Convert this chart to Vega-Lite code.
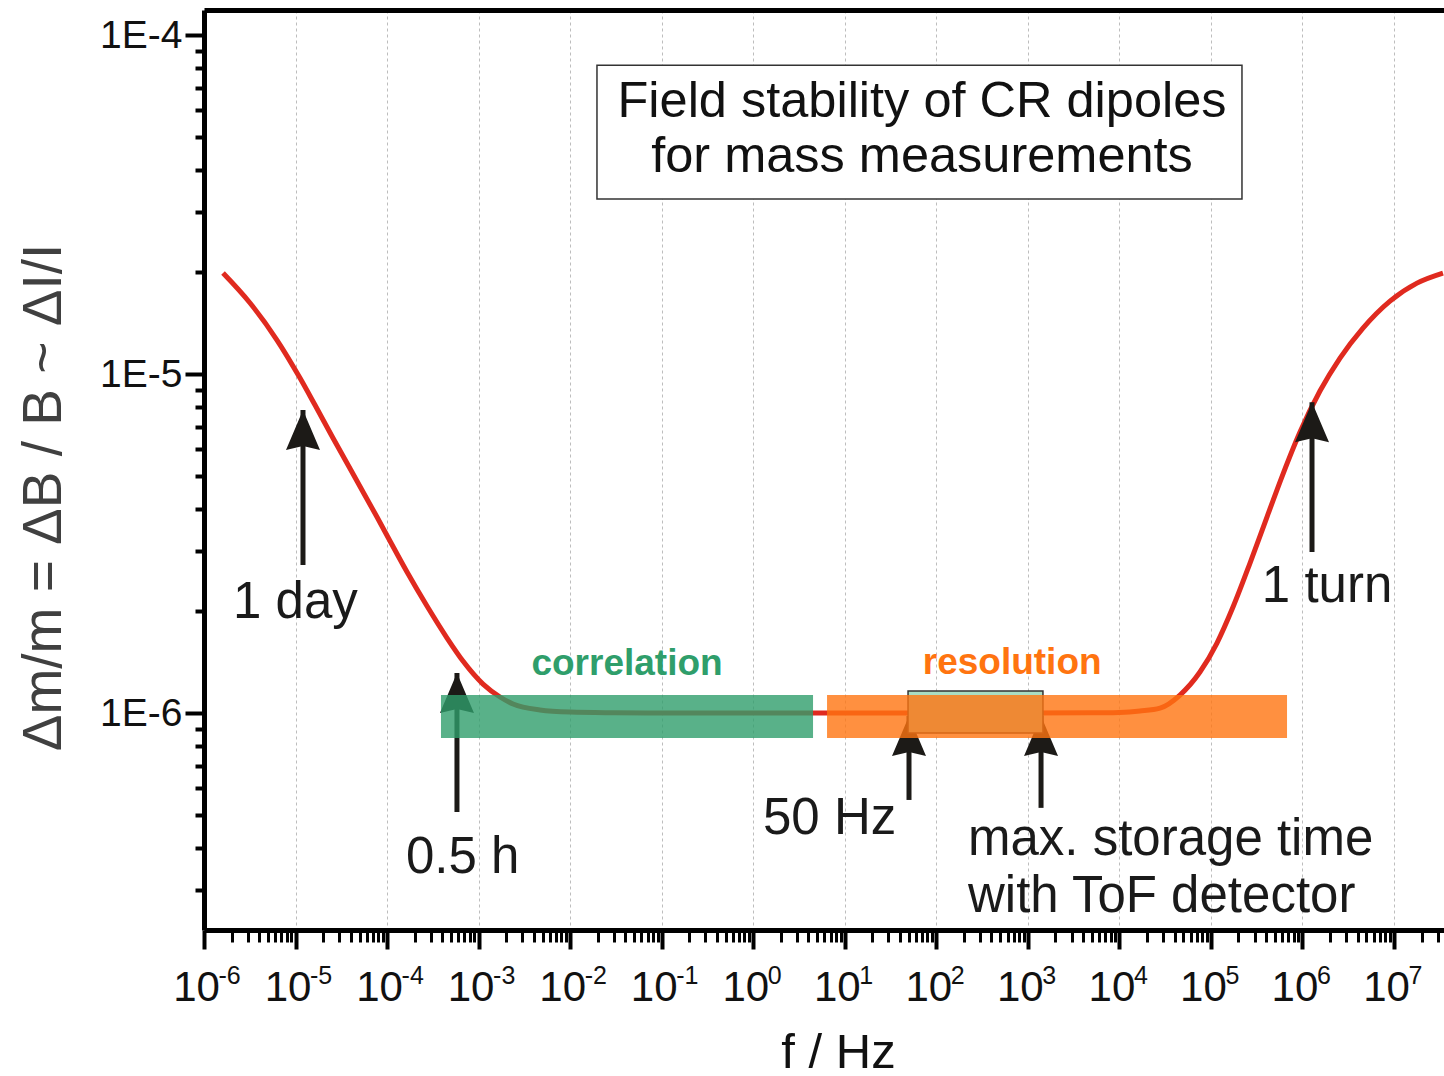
{
  "$schema": "https://vega.github.io/schema/vega-lite/v6.json",
  "width": 1240,
  "height": 920,
  "autosize": {"type": "none"},
  "padding": {"left": 204, "top": 10, "right": 0, "bottom": 146},
  "background": "white",
  "config": {"view": {"stroke": null}, "font": "Liberation Sans"},
  "datasets": {
    "curve": [
      {"f": 1.614e-6, "v": 1.986e-5},
      {"f": 3.184e-6, "v": 1.62e-5},
      {"f": 6.266e-6, "v": 1.26e-5},
      {"f": 1.119e-5, "v": 9.73e-6},
      {"f": 1.632e-5, "v": 8.1e-6},
      {"f": 2.564e-5, "v": 6.48e-6},
      {"f": 4.688e-5, "v": 4.835e-6},
      {"f": 7.762e-5, "v": 3.786e-6},
      {"f": 1.076e-4, "v": 3.217e-6},
      {"f": 1.652e-4, "v": 2.605e-6},
      {"f": 2.729e-4, "v": 2.068e-6},
      {"f": 4.519e-4, "v": 1.664e-6},
      {"f": 6.745e-4, "v": 1.423e-6},
      {"f": 1.117e-3, "v": 1.217e-6},
      {"f": 1.714e-3, "v": 1.115e-6},
      {"f": 2.377e-3, "v": 1.063e-6},
      {"f": 4.677e-3, "v": 1.021e-6},
      {"f": 0.01, "v": 1.007e-6},
      {"f": 0.03, "v": 1.002e-6},
      {"f": 0.1, "v": 1.0e-6},
      {"f": 1, "v": 1.0e-6},
      {"f": 10, "v": 1.0e-6},
      {"f": 100, "v": 1.0e-6},
      {"f": 1000, "v": 1.0e-6},
      {"f": 5000, "v": 1.001e-6},
      {"f": 10000, "v": 1.004e-6},
      {"f": 1.679e4, "v": 1.014e-6},
      {"f": 2.78e4, "v": 1.034e-6},
      {"f": 4.592e4, "v": 1.13e-6},
      {"f": 7.586e4, "v": 1.321e-6},
      {"f": 1.164e5, "v": 1.609e-6},
      {"f": 1.742e5, "v": 2.054e-6},
      {"f": 2.673e5, "v": 2.77e-6},
      {"f": 4.093e5, "v": 3.786e-6},
      {"f": 6.124e5, "v": 5.07e-6},
      {"f": 9.397e5, "v": 6.745e-6},
      {"f": 1.552e6, "v": 8.91e-6},
      {"f": 2.57e6, "v": 1.115e-5},
      {"f": 4.581e6, "v": 1.367e-5},
      {"f": 9.036e6, "v": 1.642e-5},
      {"f": 1.782e7, "v": 1.855e-5},
      {"f": 3.428e7, "v": 1.986e-5}
    ],
    "arrows": [
      {"label": "1 day", "f": 1.206e-5, "v": 7.83e-6, "v2": 2.734e-6},
      {"label": "0.5 h", "f": 5.8e-4, "v": 1.312e-6, "v2": 5.105e-7},
      {"label": "50 Hz", "f": 50.3, "v": 9.8e-7, "v2": 5.54e-7},
      {"label": "max. storage time", "f": 1393, "v": 9.8e-7, "v2": 5.25e-7},
      {"label": "1 turn", "f": 1.271e6, "v": 8.26e-6, "v2": 2.985e-6}
    ],
    "box": [
      {"f": 49.1, "f2": 1462, "v": 1.161e-6, "v2": 8.73e-7}
    ],
    "bands": [
      {"band": "correlation", "f": 3.88e-4, "f2": 4.5, "v": 1.13e-6, "v2": 8.44e-7},
      {"band": "resolution", "f": 6.4, "f2": 6.78e5, "v": 1.13e-6, "v2": 8.44e-7}
    ],
    "notes": [
      {"text": "1 day", "f": 2.074e-6, "v": 1.906e-6},
      {"text": "0.5 h", "f": 1.609e-4, "v": 3.37e-7},
      {"text": "50 Hz", "f": 1.278, "v": 4.4e-7},
      {"text": "max. storage time", "f": 221.8, "v": 3.81e-7},
      {"text": "with ToF detector", "f": 221.8, "v": 2.59e-7},
      {"text": "1 turn", "f": 3.6e5, "v": 2.125e-6}
    ],
    "bandlabels": [
      {"band": "correlation", "f": 4.18e-2, "v": 1.294e-6},
      {"band": "resolution", "f": 674, "v": 1.3e-6}
    ],
    "titlebox": [
      {"f": 1.963e-2, "f2": 2.183e5, "v": 8.155e-5, "v2": 3.282e-5}
    ],
    "titlelines": [
      {"text": "Field stability of CR dipoles", "f": 69.8, "v": 5.73e-5},
      {"text": "for mass measurements", "f": 69.8, "v": 3.94e-5}
    ]
  },
  "encoding": {
    "x": {"field": "f", "type": "quantitative", "scale": {"type": "log", "domain": [1e-6, 3.516e7], "nice": false}, "axis": null},
    "y": {"field": "v", "type": "quantitative", "scale": {"type": "log", "domain": [2.29e-7, 1.186e-4], "nice": false}, "axis": null}
  },
  "layer": [
    {
      "data": {"name": "curve"},
      "mark": {"type": "line", "color": "#e02a1f", "strokeWidth": 5, "interpolate": "monotone"},
      "encoding": {
        "x": {
          "field": "f", "type": "quantitative",
          "scale": {"type": "log", "domain": [1e-6, 3.516e7], "nice": false},
          "axis": {
            "orient": "bottom",
            "title": "f / Hz",
            "titleFont": "Liberation Sans",
            "titleFontSize": 49,
            "titleFontWeight": "normal",
            "titleColor": "#111111",
            "titleX": 634,
            "titleY": 137,
            "titleBaseline": "alphabetic",
            "titleAlign": "center",
            "titleAnchor": null,
            "values": [1e-6,2e-6,3e-6,4e-6,5e-6,6e-6,7e-6,8e-6,9e-6,1e-5,2e-5,3e-5,4e-5,5e-5,6e-5,7e-5,8e-5,9e-5,1e-4,2e-4,3e-4,4e-4,5e-4,6e-4,7e-4,8e-4,9e-4,1e-3,2e-3,3e-3,4e-3,5e-3,6e-3,7e-3,8e-3,9e-3,0.01,0.02,0.03,0.04,0.05,0.06,0.07,0.08,0.09,0.1,0.2,0.3,0.4,0.5,0.6,0.7,0.8,0.9,1,2,3,4,5,6,7,8,9,10,20,30,40,50,60,70,80,90,100,200,300,400,500,600,700,800,900,1000,2000,3000,4000,5000,6000,7000,8000,9000,1e4,2e4,3e4,4e4,5e4,6e4,7e4,8e4,9e4,1e5,2e5,3e5,4e5,5e5,6e5,7e5,8e5,9e5,1e6,2e6,3e6,4e6,5e6,6e6,7e6,8e6,9e6,1e7,2e7,3e7],
            "labelExpr": "abs(log(datum.value)/LN10 - round(log(datum.value)/LN10)) < 0.001 ? '10' : ''",
            "labelFont": "Liberation Sans Narrow, Liberation Sans",
            "labelFontSize": 42,
            "labelColor": "#111111",
            "labelPadding": 18,
            "labelOffset": -8,
            "labelAlign": "center",
            "labelOverlap": false,
            "labelBound": false,
            "labelFlush": false,
            "domain": true,
            "domainColor": "#000000",
            "domainWidth": 5,
            "ticks": true,
            "tickColor": "#000000",
            "tickSize": {"condition": {"test": "abs(log(datum.value)/LN10 - round(log(datum.value)/LN10)) < 0.001", "value": 19}, "value": 12},
            "tickWidth": {"condition": {"test": "abs(log(datum.value)/LN10 - round(log(datum.value)/LN10)) < 0.001", "value": 4}, "value": 3},
            "grid": true,
            "gridColor": "#bdbdbd",
            "gridWidth": 1,
            "gridDash": [3, 3],
            "gridOpacity": {"condition": {"test": "abs(log(datum.value)/LN10 - round(log(datum.value)/LN10)) < 0.001", "value": 1}, "value": 0}
          }
        },
        "y": {
          "field": "v", "type": "quantitative",
          "scale": {"type": "log", "domain": [2.29e-7, 1.186e-4], "nice": false},
          "axis": {
            "orient": "left",
            "title": "Δm/m = ΔB / B  ~ ΔI/I",
            "titleFont": "Liberation Sans",
            "titleFontSize": 55,
            "titleFontWeight": "normal",
            "titleColor": "#404040",
            "titleAngle": -90,
            "titleX": -144,
            "titleY": 487,
            "titleBaseline": "alphabetic",
            "titleAlign": "center",
            "titleAnchor": null,
            "values": [3e-7,4e-7,5e-7,6e-7,7e-7,8e-7,9e-7,1e-6,2e-6,3e-6,4e-6,5e-6,6e-6,7e-6,8e-6,9e-6,1e-5,2e-5,3e-5,4e-5,5e-5,6e-5,7e-5,8e-5,9e-5,1e-4],
            "labelExpr": "abs(log(datum.value)/LN10 - round(log(datum.value)/LN10)) < 0.001 ? '1E' + round(log(datum.value)/LN10) : ''",
            "labelFont": "Liberation Sans",
            "labelFontSize": 39,
            "labelColor": "#111111",
            "labelPadding": 3,
            "labelOverlap": false,
            "labelBound": false,
            "labelFlush": false,
            "domain": true,
            "domainColor": "#000000",
            "domainWidth": 5,
            "ticks": true,
            "tickColor": "#000000",
            "tickSize": {"condition": {"test": "abs(log(datum.value)/LN10 - round(log(datum.value)/LN10)) < 0.001", "value": 19}, "value": 9},
            "tickWidth": 4,
            "grid": false
          }
        }
      }
    },
    {
      "data": {"name": "arrows"},
      "mark": {"type": "rule", "color": "#1c1a17", "strokeWidth": 5},
      "encoding": {
        "x": {
          "field": "f", "type": "quantitative",
          "scale": {"type": "log", "domain": [1e-6, 3.516e7], "nice": false},
          "axis": {
            "orient": "bottom",
            "title": null,
            "domain": false,
            "ticks": false,
            "grid": false,
            "values": [1e-6,1e-5,1e-4,1e-3,0.01,0.1,1,10,100,1000,1e4,1e5,1e6,1e7],
            "labelExpr": "(datum.value < 0.5 ? '-' : '') + abs(round(log(datum.value)/LN10))",
            "labelFont": "Liberation Sans Narrow, Liberation Sans",
            "labelFontSize": 25,
            "labelColor": "#111111",
            "labelAlign": "left",
            "labelOffset": 14,
            "labelPadding": 33,
            "labelOverlap": false,
            "labelBound": false,
            "labelFlush": false
          }
        },
        "y2": {"field": "v2"}
      }
    },
    {
      "data": {"name": "arrows"},
      "mark": {"type": "point", "shape": "M0,0 L0.85,2 L0,1.8 L-0.85,2 Z", "size": 1600, "filled": true, "color": "#1c1a17", "opacity": 1, "strokeWidth": 0}
    },
    {
      "data": {"name": "box"},
      "mark": {"type": "rect", "fill": "#a9dcc3", "stroke": "#333333", "strokeWidth": 1.5},
      "encoding": {"x2": {"field": "f2"}, "y2": {"field": "v2"}}
    },
    {
      "data": {"name": "bands"},
      "mark": {"type": "rect", "opacity": 0.8},
      "encoding": {
        "x2": {"field": "f2"},
        "y2": {"field": "v2"},
        "color": {"field": "band", "type": "nominal", "scale": {"domain": ["correlation", "resolution"], "range": ["#2f9e6b", "#ff7410"]}, "legend": null}
      }
    },
    {
      "data": {"name": "notes"},
      "mark": {"type": "text", "align": "left", "baseline": "alphabetic", "font": "Liberation Sans", "fontSize": 51, "color": "#1a1a1a"},
      "encoding": {"text": {"field": "text"}}
    },
    {
      "data": {"name": "bandlabels"},
      "mark": {"type": "text", "align": "center", "baseline": "alphabetic", "font": "Liberation Sans", "fontSize": 37, "fontWeight": "bold"},
      "encoding": {
        "text": {"field": "band"},
        "color": {"field": "band", "type": "nominal", "scale": {"domain": ["correlation", "resolution"], "range": ["#2e9a66", "#ff6600"]}, "legend": null}
      }
    },
    {
      "data": {"name": "titlebox"},
      "mark": {"type": "rect", "fill": "white", "stroke": "#333333", "strokeWidth": 1.5},
      "encoding": {
        "x": {
          "field": "f", "type": "quantitative",
          "scale": {"type": "log", "domain": [1e-6, 3.516e7], "nice": false},
          "axis": {"orient": "top", "title": null, "labels": false, "ticks": false, "grid": false, "domain": true, "domainColor": "#000000", "domainWidth": 5}
        },
        "x2": {"field": "f2"},
        "y2": {"field": "v2"}
      }
    },
    {
      "data": {"name": "titlelines"},
      "mark": {"type": "text", "align": "center", "baseline": "alphabetic", "font": "Liberation Sans", "fontSize": 50.5, "color": "#111111"},
      "encoding": {"text": {"field": "text"}}
    }
  ],
  "resolve": {"axis": {"x": "independent", "y": "independent"}}
}
